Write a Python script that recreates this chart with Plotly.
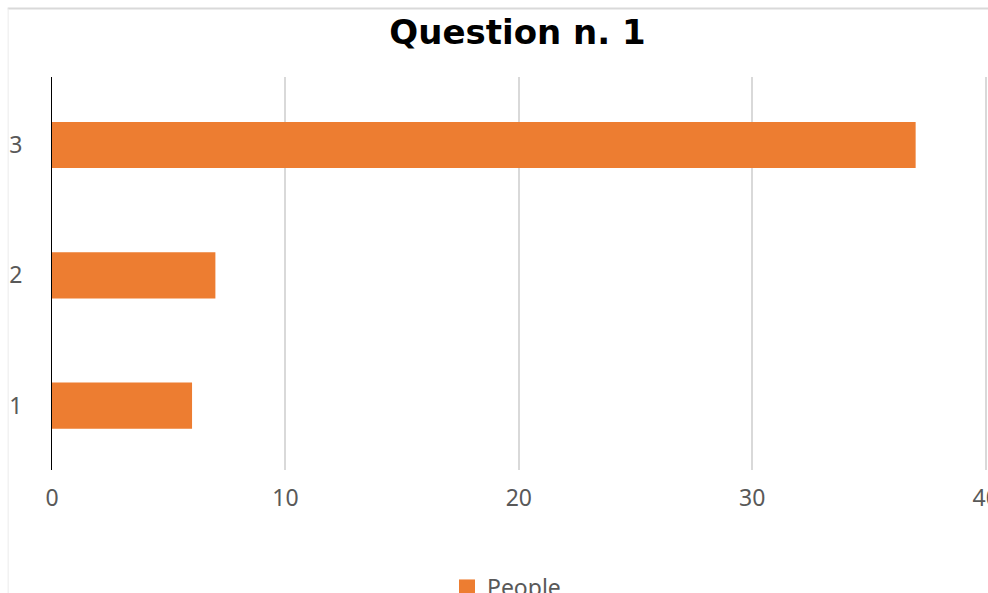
import plotly.graph_objects as go

categories = ["1", "2", "3"]
people = [6, 7, 37]
x_ticks = [0, 10, 20, 30, 40]
title_text = "Question n. 1"
series_name = "People"

# the figure is a little wider than the 988px window, so the "40" tick label is
# drawn and then cut by the window edge, as in the reference
W, H = 1004, 593
X_MAX = 40.1
ML, MT, MB = 52.3, 77, 123
UNIT = 933 / 40.0
PW = UNIT * X_MAX
MR = W - ML - PW
PH = H - MT - MB
ORANGE = "#ED7D31"

fig = go.Figure()
fig.add_trace(go.Bar(
    y=categories, x=people, orientation="h", name=series_name, showlegend=False,
    marker=dict(color=ORANGE, line=dict(width=0)),
))
# legend entry (bigger square swatch, as in the reference)
fig.add_trace(go.Scatter(
    x=[None], y=[None], mode="markers", name=series_name, showlegend=True,
    marker=dict(symbol="square", size=20, color=ORANGE, line=dict(width=0)),
))

def px_x(px):
    return (px - ML) / PW

def px_y(py):
    return (H - MB - py) / PH

fig.update_layout(
    width=W, height=H,
    margin=dict(l=ML, r=MR, t=MT, b=MB, pad=0, autoexpand=False),
    paper_bgcolor="white", plot_bgcolor="white",
    bargap=0.645,
    title=dict(text="<b>" + title_text + "</b>", x=517.5 / W, xanchor="center",
               y=1 - 32 / H, yanchor="middle",
               font=dict(family="DejaVu Sans", size=34, color="black")),
    font=dict(family="Noto Sans", size=23, color="#595959"),
    showlegend=True,
    legend=dict(orientation="h", x=px_x(447), xanchor="left", y=px_y(566),
                yanchor="top", itemsizing="trace",
                font=dict(size=23, color="#595959")),
    xaxis=dict(range=[0, X_MAX], tickvals=x_ticks, showgrid=True, gridcolor="#d9d9d9",
               gridwidth=2, zeroline=False, showline=False, ticks="",
               ticklabelstandoff=12, automargin=False, fixedrange=True),
    yaxis=dict(type="category", range=[-0.495, 2.522], showgrid=False, zeroline=False,
               showline=True, linecolor="black", linewidth=1.2, ticks="",
               ticklabelstandoff=24, automargin=False, fixedrange=True),
    shapes=[
        dict(type="line", xref="paper", yref="paper", x0=px_x(8), x1=px_x(W + 2),
             y0=px_y(8.5), y1=px_y(8.5), line=dict(color="#d9d9d9", width=2)),
        dict(type="line", xref="paper", yref="paper", x0=px_x(8.5), x1=px_x(8.5),
             y0=px_y(H + 2), y1=px_y(8.5), line=dict(color="#ebebeb", width=1)),
    ],
)

fig.write_html("out.html", config={"displayModeBar": False},
               post_script="document.documentElement.style.overflow='hidden';"
                           "document.body.style.margin='0';document.body.style.overflow='hidden';")
